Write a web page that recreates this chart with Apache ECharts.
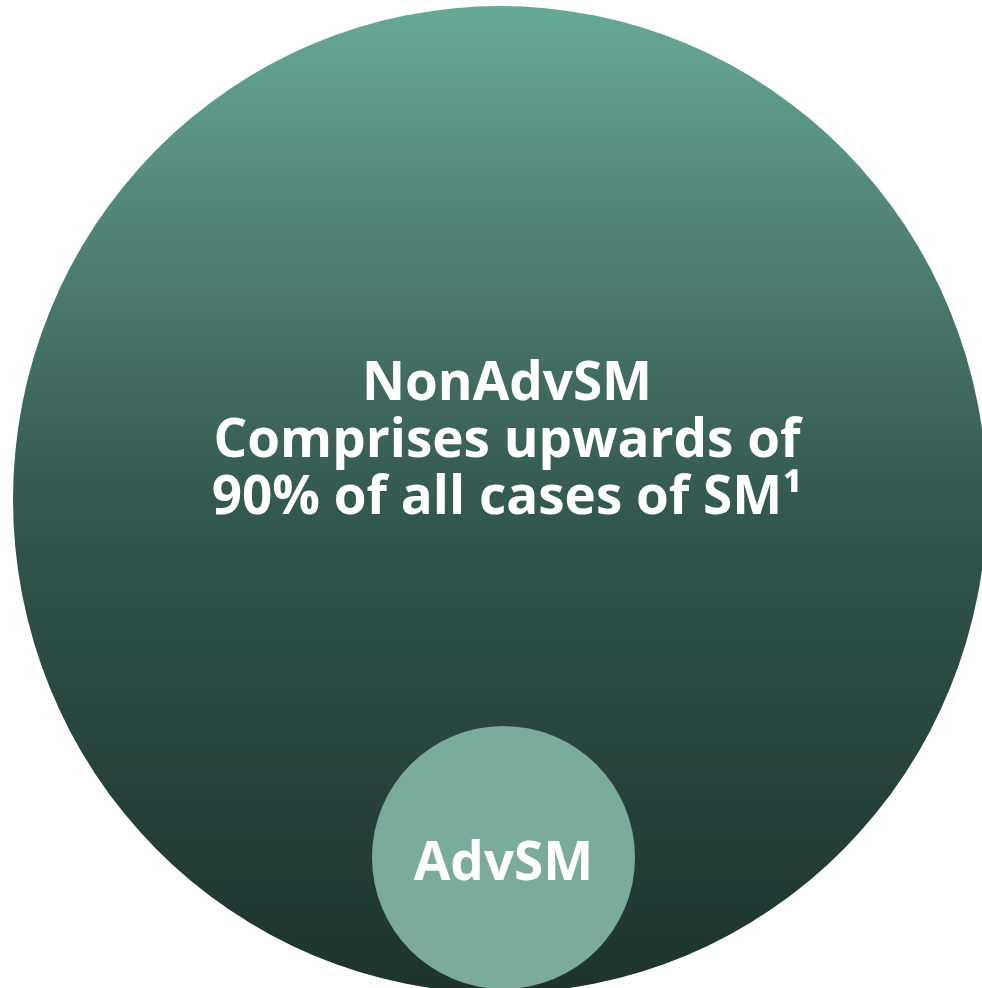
<!DOCTYPE html>
<html>
<head>
<meta charset="utf-8">
<script src="https://cdn.jsdelivr.net/npm/echarts@6/dist/echarts.min.js"></script>
<style>
  html, body { margin: 0; padding: 0; background: #fff; }
  #chart { width: 982px; height: 988px; }
</style>
</head>
<body>
<div id="chart"></div>
<script>
// Circles of the diagram, in axis units (x: 0..982, y: 0..988 from the top)
const names = ['NonAdvSM', 'AdvSM'];
const labels = ['NonAdvSM\nComprises upwards of\n90% of all cases of SM¹', 'AdvSM'];
const centerX = [500, 503.5];
const centerY = [499.5, 857.5];
const radiusX = [487, 131.5];
const radiusY = [493.5, 131.5];

const chart = echarts.init(document.getElementById('chart'));

const data = names.map((n, i) => ({
  name: n,
  value: [centerX[i], centerY[i], radiusX[i], radiusY[i], i]
}));

// big circle fades from light teal at the top to dark green at the bottom
const bigFill = new echarts.graphic.LinearGradient(0, 0, 0, 1, [
  { offset: 0, color: '#67a896' },
  { offset: 0.35, color: '#446f64' },
  { offset: 0.55, color: '#2f534a' },
  { offset: 1, color: '#1e332e' }
]);
const fills = [bigFill, '#7aab9c'];
const labelShift = [[7, -58], [0, 7]];

chart.setOption({
  animation: false,
  grid: { left: 0, right: 0, top: 0, bottom: 0 },
  xAxis: { type: 'value', min: 0, max: 982, show: false },
  yAxis: { type: 'value', min: 0, max: 988, inverse: true, show: false },
  series: [{
    type: 'custom',
    data: data,
    renderItem: function (params, api) {
      const i = api.value(4);
      const c = api.coord([api.value(0), api.value(1)]);
      const s = api.size([api.value(2), api.value(3)]);
      return {
        type: 'group',
        children: [
          {
            type: 'circle',
            x: c[0],
            y: c[1],
            scaleY: s[1] / s[0],
            shape: { cx: 0, cy: 0, r: s[0] },
            style: { fill: fills[i] }
          },
          {
            type: 'text',
            x: c[0] + labelShift[i][0],
            y: c[1] + labelShift[i][1],
            style: {
              text: labels[i],
              fill: '#ffffff',
              fontFamily: '"Open Sans", "Noto Sans", sans-serif',
              fontWeight: 'bold',
              fontSize: 53,
              lineHeight: 57,
              align: 'center',
              verticalAlign: 'middle'
            }
          }
        ]
      };
    }
  }]
});
</script>
</body>
</html>
